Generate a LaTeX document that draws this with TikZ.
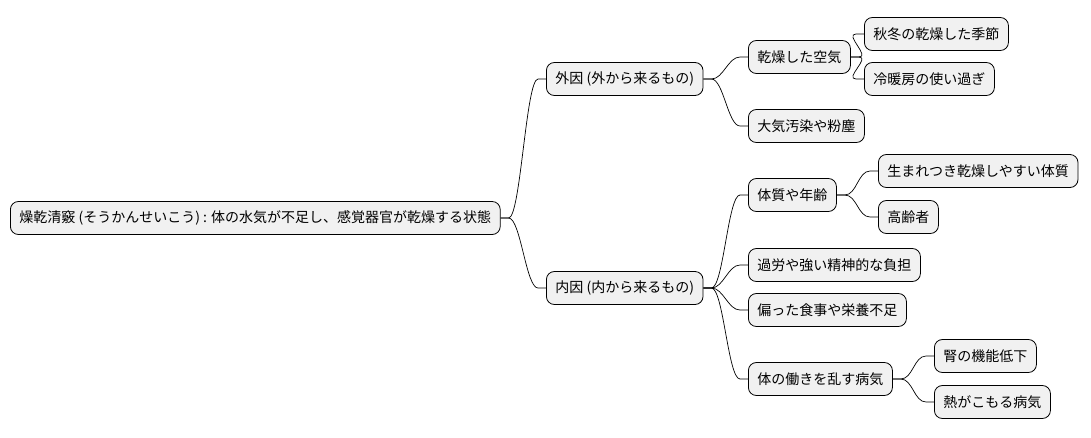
\documentclass[tikz,border=0pt]{standalone}
\usepackage{fontspec}
\newfontfamily\jpfont{Noto Sans CJK JP}
\definecolor{boxfill}{HTML}{F1F1F1}
\begin{document}
\begin{tikzpicture}[x=1pt,y=-1pt,
        idea/.style={draw=black, line width=0.8pt, fill=boxfill, rounded corners=8pt,
            anchor=west, minimum height=33pt, inner xsep=9pt, font=\jpfont\fontsize{14}{16}\selectfont},
        branch/.style={draw=black, line width=0.7pt}]
    \useasboundingbox (0,0) rectangle (1091,437);

    \node[idea] (root) at (10,218) {燥乾清竅 (そうかんせいこう) : 体の水気が不足し、感覚器官が乾燥する状態};
    \node[idea] (ext) at (546,79) {外因 (外から来るもの)};
    \node[idea] (int) at (546,288) {内因 (内から来るもの)};
    \node[idea] (air) at (748,57) {乾燥した空気};
    \node[idea] (season) at (864,34) {秋冬の乾燥した季節};
    \node[idea] (aircon) at (864,79) {冷暖房の使い過ぎ};
    \node[idea] (dust) at (748,126) {大気汚染や粉塵};
    \node[idea] (age) at (748,195) {体質や年齢};
    \node[idea] (born) at (878,171) {生まれつき乾燥しやすい体質};
    \node[idea] (old) at (878,217) {高齢者};
    \node[idea] (stress) at (748,265) {過労や強い精神的な負担};
    \node[idea] (food) at (748,310) {偏った食事や栄養不足};
    \node[idea] (ill) at (748,379) {体の働きを乱す病気};
    \node[idea] (kidney) at (934,356) {腎の機能低下};
    \node[idea] (heat) at (934,402) {熱がこもる病気};

    \foreach \a/\b in {root/ext, root/int, ext/air, ext/dust, air/season, air/aircon,
            int/age, int/stress, int/food, int/ill, age/born, age/old, ill/kidney, ill/heat}
        \draw[branch] (\a.east) -- ++(8,0) .. controls +(12,0) and +(-12,0) .. ([xshift=-8pt]\b.west) -- (\b.west);
\end{tikzpicture}
\end{document}
